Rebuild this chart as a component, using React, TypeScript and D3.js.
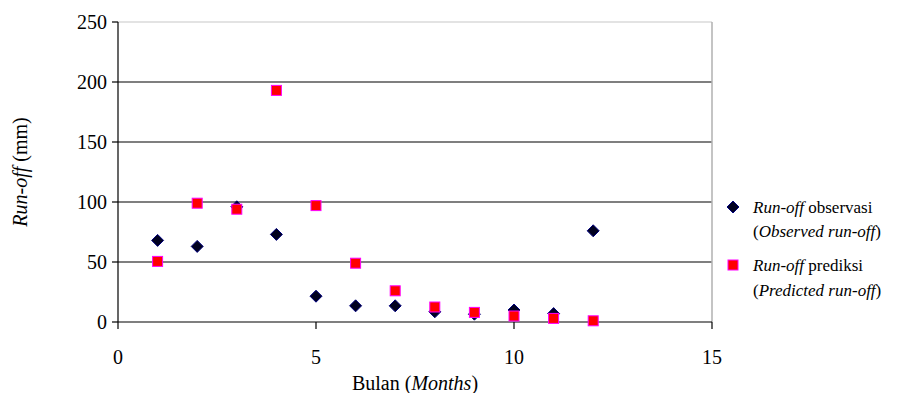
import React from "react";
import * as d3 from "d3";

const months = [1, 2, 3, 4, 5, 6, 7, 8, 9, 10, 11, 12];
const observed = [68, 63, 96, 73, 21.5, 13.5, 13.5, 8.5, 6.5, 10, 7, 76];
const predicted = [50.5, 99, 94, 193, 97, 49, 26, 12.5, 8, 5, 3, 1];
const xTicks = [0, 5, 10, 15];
const yTicks = [0, 50, 100, 150, 200, 250];

const W = 920;
const H = 401;
const left = 118;
const right = 712;
const top = 22;
const bottom = 322;
const F = "Liberation Serif";

const App = () => {
  const x = d3.scaleLinear().domain([0, 15]).range([left, right]);
  const y = d3.scaleLinear().domain([0, 250]).range([bottom, top]);
  const diamond = (cx: number, cy: number, r: number) =>
    `M${cx},${cy - r}L${cx + r},${cy}L${cx},${cy + r}L${cx - r},${cy}Z`;

  return (
    <svg width={W} height={H} style={{display: "block", margin: -8, fontFamily: "'Liberation Serif', serif"}}>
      <rect width={W} height={H} fill="white"/>
      {/* grid */}
      {yTicks.filter(t => t > 0 && t < 250).map(t => (
        <line key={t} x1={left} x2={right} y1={y(t)} y2={y(t)} stroke="black" strokeWidth={1.2}/>
      ))}
      <line x1={left} x2={right} y1={top} y2={top} stroke="#c8c8c8" strokeWidth={1.2}/>
      <line x1={right} x2={right} y1={top} y2={bottom} stroke="#b0b0b0" strokeWidth={1.5}/>
      {/* axes */}
      <line x1={left} x2={left} y1={top} y2={bottom} stroke="black" strokeWidth={1.2}/>
      <line x1={left} x2={right} y1={bottom} y2={bottom} stroke="black" strokeWidth={1.2}/>
      {yTicks.map(t => (
        <g key={t}>
          <line x1={left - 6} x2={left} y1={y(t)} y2={y(t)} stroke="black" strokeWidth={1.2}/>
          <text fontFamily={F} x={left - 11} y={y(t) + 7} textAnchor="end" fontSize={20}>{t}</text>
        </g>
      ))}
      {xTicks.map(t => (
        <g key={t}>
          <line x1={x(t)} x2={x(t)} y1={bottom} y2={bottom + 7} stroke="black" strokeWidth={1.2}/>
          <text fontFamily={F} x={x(t)} y={364} textAnchor="middle" fontSize={20}>{t}</text>
        </g>
      ))}
      <text fontFamily={F} x={415} y={390} textAnchor="middle" fontSize={20}>
        Bulan (<tspan fontStyle="italic">Months</tspan>)
      </text>
      <text fontFamily={F} transform={`translate(27,${172}) rotate(-90)`} textAnchor="middle" fontSize={20}>
        <tspan fontStyle="italic">Run-off</tspan> (mm)
      </text>
      {/* observed */}
      {months.map((m, i) => (
        <path key={"o" + m} d={diamond(x(m), y(observed[i]), 6)} fill="#000020" stroke="#000080" strokeWidth={1}/>
      ))}
      {/* predicted */}
      {months.map((m, i) => (
        <rect key={"p" + m} x={x(m) - 5} y={y(predicted[i]) - 5} width={10} height={10}
              fill="#ff0000" stroke="#ff00ff" strokeWidth={1}/>
      ))}
      {/* legend */}
      <path d={diamond(733, 207, 6)} fill="#000020" stroke="#000080" strokeWidth={1}/>
      <text fontFamily={F} x={753} y={213} fontSize={17}>
        <tspan fontStyle="italic">Run-off</tspan> observasi
      </text>
      <text fontFamily={F} x={753} y={237} fontSize={17}>
        (<tspan fontStyle="italic">Observed run-off</tspan>)
      </text>
      <rect x={728} y={260} width={10} height={10} fill="#ff0000" stroke="#ff00ff" strokeWidth={1}/>
      <text fontFamily={F} x={753} y={271} fontSize={17}>
        <tspan fontStyle="italic">Run-off</tspan> prediksi
      </text>
      <text fontFamily={F} x={753} y={296} fontSize={17}>
        (<tspan fontStyle="italic">Predicted run-off</tspan>)
      </text>
    </svg>
  );
};

export default App;
